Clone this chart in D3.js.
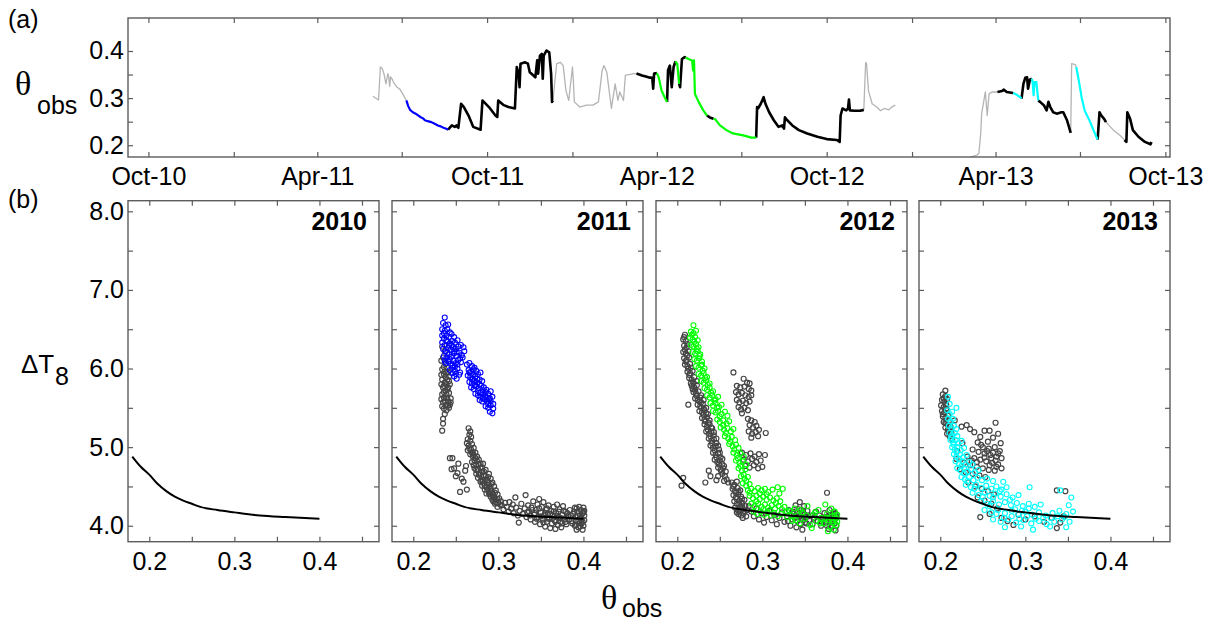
<!DOCTYPE html>
<html>
<head>
<meta charset="utf-8">
<script src="https://cdn.jsdelivr.net/npm/d3@7"></script>
<style>
  html, body { margin: 0; padding: 0; background: #fff; }
  svg { display: block; font-family: "Liberation Sans", Arial, sans-serif; }
</style>
</head>
<body>
<svg id="fig" width="1205" height="621"></svg>
<script>
// ---------------- data: panel (a), θobs record ----------------
const timeTickDates  = ["2010-10-01","2011-01-01","2011-04-01","2011-07-01","2011-10-01","2012-01-01","2012-04-01",
                        "2012-07-01","2012-10-01","2013-01-01","2013-04-01","2013-07-01","2013-10-01"];
const timeTickLabels = ["Oct-10","","Apr-11","","Oct-11","","Apr-12","","Oct-12","","Apr-13","","Oct-13"];
const thetaTicks      = [0.2, 0.25, 0.3, 0.35, 0.4];
const thetaTickLabels = ["0.2", "", "0.3", "", "0.4"];

// runs of the record: "excluded" (not used), "used", "drydown" (selected dry-down period)
const season2011 = [
  ["excluded", [["2011-05-31",0.304],["2011-06-06",0.296],["2011-06-08",0.366],["2011-06-10",0.363],["2011-06-12",0.350],
                ["2011-06-14",0.330],["2011-06-16",0.352],["2011-06-17",0.345],["2011-06-18",0.325],["2011-06-19",0.345],
                ["2011-06-21",0.339],["2011-06-22",0.334],["2011-06-26",0.323],["2011-06-29",0.319],["2011-07-02",0.309],
                ["2011-07-06",0.295]]],
  ["drydown",  [["2011-07-06",0.295],["2011-07-08",0.283],["2011-07-10",0.275],["2011-07-13",0.270],["2011-07-16",0.267],
                ["2011-07-19",0.263],["2011-07-21",0.260],["2011-07-24",0.257],["2011-07-26",0.253],["2011-07-29",0.251],
                ["2011-08-02",0.249],["2011-08-05",0.246],["2011-08-09",0.242],["2011-08-12",0.240],["2011-08-15",0.237],
                ["2011-08-18",0.235],["2011-08-20",0.233]]],
  ["used",     [["2011-08-20",0.233],["2011-08-24",0.242],["2011-08-27",0.239],["2011-08-29",0.242],["2011-08-31",0.237],
                ["2011-09-03",0.288],["2011-09-06",0.281],["2011-09-11",0.263],["2011-09-16",0.239],["2011-09-24",0.233],
                ["2011-09-26",0.295],["2011-10-03",0.281],["2011-10-10",0.263],["2011-10-12",0.260],["2011-10-13",0.295],
                ["2011-10-19",0.285],["2011-10-24",0.281],["2011-10-31",0.278],["2011-11-02",0.366],["2011-11-04",0.352],
                ["2011-11-05",0.323],["2011-11-06",0.373],["2011-11-11",0.376],["2011-11-14",0.373],["2011-11-16",0.355],
                ["2011-11-20",0.348],["2011-11-22",0.344],["2011-11-24",0.380],["2011-11-25",0.352],["2011-11-27",0.390],
                ["2011-11-29",0.394],["2011-11-30",0.341],["2011-12-01",0.390],["2011-12-04",0.401],["2011-12-07",0.397],
                ["2011-12-09",0.352],["2011-12-10",0.292],["2011-12-11",0.295]]],
  ["excluded", [["2011-12-11",0.295],["2011-12-15",0.373],["2011-12-19",0.376],["2011-12-22",0.369],["2011-12-25",0.316],
                ["2011-12-28",0.295],["2012-01-01",0.366],["2012-01-02",0.337],["2012-01-03",0.292],["2012-01-09",0.281],
                ["2012-01-16",0.285],["2012-01-23",0.285],["2012-01-29",0.292],["2012-02-02",0.359],["2012-02-04",0.369],
                ["2012-02-07",0.355],["2012-02-12",0.278],["2012-02-16",0.330],["2012-02-19",0.295],["2012-02-21",0.313],
                ["2012-02-25",0.295],["2012-02-27",0.348],["2012-03-07",0.352],["2012-03-10",0.352]]]
];

const season2012 = [
  ["used",     [["2012-03-10",0.352],["2012-03-16",0.348],["2012-03-23",0.344],["2012-03-27",0.343],["2012-03-28",0.320],
                ["2012-03-29",0.352],["2012-04-01",0.353]]],
  ["drydown",  [["2012-04-01",0.353],["2012-04-03",0.344],["2012-04-06",0.316],["2012-04-10",0.299],["2012-04-12",0.292]]],
  ["used",     [["2012-04-12",0.292],["2012-04-13",0.359],["2012-04-15",0.369],["2012-04-17",0.323],["2012-04-19",0.366],
                ["2012-04-21",0.378]]],
  ["drydown",  [["2012-04-21",0.378],["2012-04-23",0.372],["2012-04-25",0.330]]],
  ["used",     [["2012-04-25",0.330],["2012-04-26",0.323],["2012-04-28",0.383],["2012-05-01",0.387],["2012-05-02",0.386]]],
  ["drydown",  [["2012-05-02",0.386],["2012-05-05",0.383],["2012-05-09",0.380],["2012-05-10",0.359],["2012-05-11",0.380],
                ["2012-05-12",0.309],["2012-05-16",0.292],["2012-05-21",0.274],["2012-05-25",0.263]]],
  ["used",     [["2012-05-25",0.263],["2012-05-28",0.259],["2012-06-01",0.256]]],
  ["drydown",  [["2012-06-01",0.256],["2012-06-03",0.255],["2012-06-08",0.242],["2012-06-15",0.232],["2012-06-22",0.225],
                ["2012-07-03",0.221],["2012-07-12",0.216],["2012-07-17",0.216]]],
  ["used",     [["2012-07-17",0.216],["2012-07-18",0.281],["2012-07-19",0.278],["2012-07-22",0.288],["2012-07-25",0.302],
                ["2012-07-27",0.288],["2012-07-31",0.270],["2012-08-05",0.253],["2012-08-10",0.239],["2012-08-14",0.242],
                ["2012-08-16",0.235],["2012-08-17",0.259],["2012-08-19",0.254],["2012-08-25",0.242],["2012-09-01",0.232],
                ["2012-09-10",0.225],["2012-09-21",0.218],["2012-10-01",0.213],["2012-10-12",0.211],["2012-10-15",0.207],
                ["2012-10-16",0.263],["2012-10-18",0.278],["2012-10-22",0.274],["2012-10-24",0.278],["2012-10-25",0.297],
                ["2012-10-26",0.274],["2012-10-31",0.273],["2012-11-06",0.273],["2012-11-10",0.275]]],
  ["excluded", [["2012-11-10",0.275],["2012-11-12",0.376],["2012-11-13",0.373],["2012-11-15",0.316],["2012-11-19",0.288],
                ["2012-11-24",0.281],["2012-11-28",0.273],["2012-12-02",0.278],["2012-12-07",0.275],["2012-12-10",0.281],
                ["2012-12-14",0.285]]]
];

const season2013 = [
  ["excluded", [["2013-03-05",0.175],["2013-03-12",0.179],["2013-03-14",0.183],["2013-03-16",0.225],["2013-03-17",0.267],
                ["2013-03-21",0.313],["2013-03-23",0.263],["2013-03-25",0.309],["2013-03-28",0.313],["2013-04-03",0.313]]],
  ["used",     [["2013-04-03",0.313],["2013-04-08",0.315],["2013-04-10",0.318],["2013-04-13",0.313],["2013-04-20",0.311]]],
  ["drydown",  [["2013-04-20",0.311],["2013-04-24",0.307],["2013-04-28",0.301],["2013-04-29",0.299]]],
  ["used",     [["2013-04-29",0.299],["2013-05-01",0.330],["2013-05-03",0.343],["2013-05-05",0.344],["2013-05-06",0.320],
                ["2013-05-08",0.339],["2013-05-10",0.341]]],
  ["drydown",  [["2013-05-10",0.341],["2013-05-11",0.334],["2013-05-12",0.306],["2013-05-13",0.334],["2013-05-15",0.334],
                ["2013-05-17",0.295]]],
  ["used",     [["2013-05-17",0.295],["2013-05-19",0.292],["2013-05-23",0.285],["2013-05-26",0.274],["2013-05-28",0.292],
                ["2013-05-30",0.281],["2013-06-02",0.270],["2013-06-06",0.267],["2013-06-11",0.270],["2013-06-13",0.270],
                ["2013-06-17",0.253],["2013-06-21",0.226]]],
  ["excluded", [["2013-06-21",0.226],["2013-06-22",0.373],["2013-06-26",0.371],["2013-06-27",0.366]]],
  ["drydown",  [["2013-06-27",0.366],["2013-06-28",0.355],["2013-06-30",0.334],["2013-07-03",0.299],["2013-07-06",0.274],
                ["2013-07-12",0.249],["2013-07-17",0.225],["2013-07-20",0.212]]],
  ["used",     [["2013-07-20",0.212],["2013-07-22",0.270],["2013-07-24",0.263],["2013-07-27",0.256],["2013-07-29",0.249]]],
  ["excluded", [["2013-07-29",0.249],["2013-08-06",0.232],["2013-08-13",0.221],["2013-08-18",0.211]]],
  ["used",     [["2013-08-18",0.211],["2013-08-20",0.207],["2013-08-21",0.270],["2013-08-24",0.256],["2013-08-27",0.232],
                ["2013-09-02",0.218],["2013-09-09",0.207],["2013-09-15",0.202],["2013-09-16",0.207]]]
];

// ---------------- data: panel (b), ΔT8 vs θobs ----------------
const years        = ["2010", "2011", "2012", "2013"];
const dtTicks      = [4.0, 4.5, 5.0, 5.5, 6.0, 6.5, 7.0, 7.5, 8.0];
const dtTickLabels = ["4.0", "", "5.0", "", "6.0", "", "7.0", "", "8.0"];
const xThetaTicks      = [0.2, 0.25, 0.3, 0.35, 0.4, 0.45];
const xThetaTickLabels = ["0.2", "", "0.3", "", "0.4", ""];

// reference relation ΔT8(θ)
const curveTheta = [0.18, 0.19, 0.20, 0.21, 0.22, 0.23, 0.24, 0.25, 0.26, 0.28, 0.30, 0.33, 0.36, 0.40];
const curveDT    = [4.88, 4.75, 4.65, 4.53, 4.44, 4.37, 4.32, 4.28, 4.24, 4.20, 4.17, 4.13, 4.11, 4.09];

// all observations of the year [θ, ΔT8]
const allPts2011 = [
  [0.234,6.28],[0.237,6.22],[0.235,6.14],[0.238,6.06],[0.240,6.01],[0.234,5.99],[0.236,5.93],[0.239,5.95],[0.242,5.90],
  [0.234,5.86],[0.237,5.82],[0.240,5.86],[0.243,5.80],[0.235,5.76],[0.238,5.72],[0.241,5.76],[0.234,5.67],[0.236,5.63],
  [0.239,5.67],[0.242,5.69],[0.244,5.62],[0.235,5.57],[0.238,5.53],[0.241,5.58],[0.243,5.54],[0.236,5.49],[0.239,5.47],
  [0.242,5.50],[0.237,5.42],[0.235,5.36],[0.235,5.30],[0.234,5.21],
  [0.233,6.10],[0.236,6.02],[0.233,5.92],[0.238,5.89],[0.233,5.80],[0.236,5.70],[0.240,5.73],[0.233,5.61],[0.237,5.59],
  [0.240,5.62],[0.234,5.52],[0.244,5.57],[0.241,5.53],[0.237,5.96],[0.241,5.95],[0.239,5.80],[0.242,5.84],[0.236,5.78],
  [0.243,4.86],[0.246,4.86],[0.245,4.72],[0.248,4.73],[0.250,4.63],[0.253,4.79],[0.255,4.43],[0.257,4.60],[0.259,4.56],
  [0.261,4.70],[0.262,4.76],[0.263,4.46],[0.252,4.67],
  [0.265,5.24],[0.266,5.16],[0.264,5.10],[0.267,5.08],[0.265,5.02],[0.269,5.04],[0.268,4.97],[0.271,4.99],[0.264,4.96],
  [0.273,4.93],[0.267,4.91],[0.270,4.88],[0.275,4.88],[0.272,4.83],[0.277,4.84],[0.269,4.81],[0.274,4.78],[0.279,4.79],
  [0.272,4.73],[0.276,4.72],[0.281,4.74],[0.274,4.66],[0.278,4.67],[0.283,4.69],[0.276,4.61],[0.280,4.62],[0.285,4.63],
  [0.289,4.66],[0.279,4.56],[0.282,4.57],[0.287,4.58],[0.291,4.60],[0.281,4.51],[0.284,4.51],[0.289,4.52],[0.293,4.55],
  [0.284,4.46],[0.287,4.46],[0.291,4.47],[0.295,4.50],[0.286,4.41],[0.289,4.41],[0.293,4.42],[0.297,4.45],[0.291,4.37],
  [0.295,4.37],[0.299,4.40],[0.293,4.33],[0.297,4.33],[0.301,4.35],[0.296,4.28],[0.300,4.29],[0.303,4.31],[0.299,4.24],
  [0.270,4.93],[0.268,5.13],
  [0.267,5.20],[0.263,5.05],[0.266,4.98],[0.269,4.93],[0.271,4.90],[0.273,4.86],[0.275,4.82],[0.277,4.78],[0.279,4.74],
  [0.281,4.69],[0.283,4.64],[0.285,4.59],[0.287,4.55],[0.289,4.49],[0.291,4.44],[0.293,4.39],[0.295,4.34],[0.297,4.30],
  [0.271,4.77],[0.274,4.71],[0.277,4.65],[0.280,4.58],[0.283,4.54],[0.286,4.49],[0.290,4.40],[0.294,4.31],[0.282,4.79],
  [0.285,4.71],[0.288,4.62],[0.292,4.53],[0.296,4.42],[0.299,4.34],[0.302,4.27],
  [0.304,4.26],[0.306,4.21],[0.308,4.29],[0.310,4.24],[0.312,4.18],[0.313,4.30],[0.315,4.22],[0.317,4.27],[0.318,4.16],
  [0.320,4.36],[0.321,4.23],[0.323,4.13],[0.324,4.04],[0.325,4.19],[0.327,4.28],[0.329,4.15],[0.331,4.22],[0.332,4.39],
  [0.333,4.11],[0.335,4.26],[0.336,4.18],[0.338,4.08],[0.339,4.23],[0.341,4.31],[0.342,4.14],[0.343,4.05],[0.344,4.20],
  [0.346,4.27],[0.347,4.11],[0.348,4.34],[0.349,4.02],[0.350,4.17],[0.351,4.24],[0.352,4.08],[0.353,4.30],[0.354,4.13],
  [0.355,3.99],[0.356,4.20],[0.357,4.05],[0.358,4.15],[0.359,4.26],[0.360,4.10],[0.361,3.97],[0.362,4.19],[0.363,4.03],
  [0.364,4.13],[0.365,4.24],[0.366,4.07],[0.367,3.96],[0.368,4.16],[0.369,4.27],[0.370,4.01],[0.371,4.11],[0.372,4.21],
  [0.373,4.05],[0.374,3.98],[0.375,4.14],[0.376,4.25],[0.378,4.09],[0.379,4.18],[0.380,4.02],[0.382,4.12],[0.384,4.20],
  [0.386,4.06],[0.388,4.15],[0.390,4.23],[0.390,4.00],[0.391,4.11],[0.392,3.95],[0.393,4.18],[0.394,4.06],[0.395,4.24],
  [0.396,3.99],[0.396,4.13],[0.397,4.20],[0.398,4.03],[0.398,4.09],[0.399,3.95],[0.399,4.16],[0.400,4.23],[0.400,4.00],
  [0.401,4.07],[0.401,4.13],[0.401,4.19],
  [0.334,4.17],[0.337,4.13],[0.340,4.20],[0.343,4.16],[0.345,4.09],[0.348,4.22],[0.350,4.12],[0.353,4.04],[0.355,4.16],
  [0.357,4.22],[0.359,4.09],[0.361,4.15],[0.363,4.09],[0.365,4.18],[0.367,4.05],[0.369,4.12],[0.371,4.18],[0.373,4.10],
  [0.375,4.03],[0.377,4.19],[0.379,4.05],[0.381,4.16],[0.383,4.08],[0.385,4.13],[0.387,4.03],[0.389,4.18],[0.391,4.06],
  [0.393,4.13],[0.395,4.03],[0.397,4.10],[0.399,4.05],[0.400,4.17],[0.392,4.22],[0.394,3.98],[0.391,4.01]
];

// observations inside the selected dry-down [θ, ΔT8]
const dryPts2011 = [
  [0.237,6.65],[0.235,6.58],[0.238,6.55],[0.241,6.56],[0.234,6.50],[0.237,6.48],[0.240,6.50],[0.243,6.46],[0.234,6.42],
  [0.236,6.38],[0.239,6.42],[0.242,6.40],[0.245,6.44],[0.248,6.40],[0.234,6.33],[0.237,6.30],[0.240,6.34],[0.243,6.32],
  [0.246,6.35],[0.249,6.33],[0.252,6.36],[0.235,6.25],[0.238,6.22],[0.241,6.26],[0.244,6.24],[0.247,6.27],[0.250,6.25],
  [0.253,6.28],[0.256,6.30],[0.259,6.27],[0.236,6.16],[0.239,6.14],[0.242,6.18],[0.245,6.15],[0.248,6.19],[0.251,6.16],
  [0.254,6.20],[0.257,6.17],[0.260,6.22],[0.238,6.07],[0.241,6.09],[0.244,6.06],[0.247,6.10],[0.250,6.07],[0.253,6.11],
  [0.256,6.08],[0.243,5.98],[0.246,6.01],[0.249,5.97],[0.252,6.00],[0.255,5.95],[0.248,5.90],[0.251,5.87],[0.254,5.92],
  [0.236,6.45],[0.239,6.36],[0.242,6.29],[0.245,6.30],[0.248,6.22],[0.251,6.21],[0.240,6.20],[0.243,6.12],[0.246,6.04],
  [0.249,6.03],[0.252,6.05],[0.255,6.13],[0.258,6.14],[0.237,6.10],[0.246,5.94],[0.250,5.93],
  [0.263,6.05],[0.266,6.07],[0.269,6.03],[0.265,5.98],[0.268,5.96],[0.271,5.99],[0.274,5.97],[0.264,5.91],[0.267,5.89],
  [0.270,5.92],[0.273,5.90],[0.276,5.93],[0.279,5.95],[0.266,5.83],[0.269,5.81],[0.272,5.84],[0.275,5.82],[0.278,5.86],
  [0.281,5.84],[0.268,5.76],[0.271,5.74],[0.274,5.77],[0.277,5.75],[0.280,5.78],[0.283,5.76],[0.286,5.73],[0.273,5.68],
  [0.276,5.66],[0.279,5.69],[0.282,5.67],[0.285,5.70],[0.288,5.68],[0.291,5.71],[0.278,5.60],[0.281,5.58],[0.284,5.61],
  [0.287,5.59],[0.290,5.62],[0.293,5.64],[0.285,5.52],[0.288,5.50],[0.291,5.53],[0.294,5.49],[0.293,5.43],[0.290,5.45],
  [0.272,6.01],[0.270,5.87],[0.273,5.79],[0.276,5.71],[0.279,5.64],[0.282,5.62],[0.285,5.65],[0.288,5.55],[0.291,5.58],
  [0.294,5.55],[0.278,5.80],[0.282,5.72],[0.286,5.63],[0.289,5.61],[0.266,5.95],[0.269,5.86],[0.272,5.78],[0.275,5.87]
];

const allPts2012 = [
  [0.209,6.43],[0.207,6.37],[0.210,6.35],[0.208,6.29],[0.211,6.27],[0.207,6.21],[0.210,6.19],[0.213,6.22],[0.208,6.13],
  [0.211,6.11],[0.214,6.14],[0.209,6.05],[0.212,6.03],[0.215,6.06],
  [0.212,5.96],[0.215,5.94],[0.218,5.97],[0.214,5.88],[0.217,5.86],[0.220,5.89],[0.223,5.84],
  [0.217,5.78],[0.220,5.76],[0.223,5.79],[0.219,5.70],[0.222,5.68],[0.225,5.71],[0.228,5.66],[0.221,5.62],[0.224,5.60],
  [0.227,5.63],[0.231,5.60],
  [0.224,5.54],[0.227,5.52],[0.230,5.55],[0.234,5.50],[0.226,5.46],[0.229,5.44],[0.232,5.47],[0.236,5.42],[0.229,5.37],
  [0.232,5.35],[0.235,5.38],[0.238,5.34],
  [0.232,5.29],[0.235,5.26],[0.238,5.29],[0.241,5.24],[0.234,5.20],[0.237,5.17],[0.240,5.20],[0.243,5.15],
  [0.237,5.11],[0.240,5.08],[0.243,5.10],[0.246,5.05],[0.239,5.02],[0.242,4.99],[0.245,5.01],[0.249,4.97],
  [0.242,4.93],[0.245,4.90],[0.248,4.92],[0.251,4.87],[0.244,4.84],[0.247,4.81],[0.250,4.83],[0.253,4.78],[0.248,4.74],
  [0.251,4.71],[0.254,4.73],
  [0.253,4.66],[0.256,4.63],[0.255,4.57],[0.258,4.59],[0.260,4.55],
  [0.208,6.40],[0.212,6.31],[0.209,6.24],[0.212,6.17],[0.210,6.09],[0.213,6.00],[0.216,6.01],[0.214,5.92],[0.219,5.82],
  [0.216,5.81],[0.218,5.74],[0.221,5.72],[0.223,5.65],[0.226,5.58],[0.228,5.50],[0.231,5.41],[0.233,5.33],[0.236,5.22],
  [0.239,5.14],[0.241,5.05],[0.244,4.96],[0.246,4.87],[0.249,4.78],[0.252,4.69],[0.228,5.57],[0.231,5.49],[0.234,5.43],
  [0.237,5.31],[0.240,5.25],[0.243,5.19],[0.246,5.11],[0.248,5.02],[0.250,4.93],[0.253,4.85],[0.255,4.76],[0.257,4.69],
  [0.264,4.55],[0.267,4.52],[0.270,4.56],[0.265,4.47],[0.268,4.44],[0.271,4.48],[0.274,4.45],[0.266,4.39],[0.269,4.36],
  [0.272,4.40],[0.275,4.37],[0.267,4.31],[0.270,4.28],[0.273,4.32],[0.276,4.29],[0.279,4.33],[0.268,4.23],[0.271,4.20],
  [0.274,4.24],[0.277,4.21],[0.280,4.25],[0.272,4.15],[0.275,4.13],[0.278,4.16],[0.281,4.12],
  [0.266,4.50],[0.269,4.42],[0.272,4.43],[0.270,4.34],[0.273,4.27],[0.276,4.34],[0.270,4.17],[0.273,4.18],[0.276,4.25],
  [0.279,4.19],[0.282,4.20],[0.277,4.10],
  [0.213,5.54],[0.207,4.61],[0.205,4.51],[0.233,4.55],[0.237,4.70],[0.239,4.63],[0.248,4.63],[0.246,4.58],[0.376,4.42],
  [0.266,5.95],[0.278,5.87],[0.282,5.82],[0.285,5.81],[0.270,5.78],[0.274,5.76],[0.279,5.77],[0.284,5.74],[0.287,5.72],
  [0.269,5.70],[0.272,5.67],[0.276,5.69],[0.280,5.66],[0.284,5.64],[0.287,5.66],[0.270,5.60],[0.273,5.57],[0.277,5.59],
  [0.281,5.56],[0.285,5.58],[0.272,5.51],[0.275,5.48],[0.279,5.50],[0.283,5.47],[0.276,5.43],
  [0.283,5.36],[0.287,5.34],[0.291,5.32],[0.285,5.28],[0.289,5.25],[0.293,5.27],[0.296,5.22],[0.284,5.20],[0.288,5.17],
  [0.292,5.19],[0.295,5.14],[0.287,5.12],[0.304,5.18],
  [0.276,4.93],[0.281,4.90],[0.286,4.92],[0.291,4.88],[0.296,4.91],[0.303,4.90],[0.278,4.84],[0.283,4.82],[0.288,4.85],
  [0.293,4.81],[0.298,4.83],[0.280,4.76],[0.285,4.74],[0.290,4.77],[0.295,4.73],[0.300,4.75],
  [0.284,4.25],[0.287,4.18],[0.290,4.12],[0.293,4.22],[0.296,4.08],[0.299,4.16],[0.302,4.04],[0.305,4.11],[0.308,4.19],
  [0.311,4.07],[0.314,4.14],[0.317,4.02],[0.320,4.10],[0.323,4.17],[0.326,4.05],[0.329,4.12],[0.331,4.20],[0.333,4.00],
  [0.335,4.08],[0.337,4.15],[0.339,4.26],[0.340,3.98],[0.341,4.06],[0.342,4.13],[0.343,4.21],[0.344,4.30],[0.345,4.02],
  [0.346,4.09],[0.347,3.95],[0.348,4.17],[0.349,4.25],[0.350,4.04],[0.351,4.11],[0.353,4.19],[0.355,4.07],[0.357,4.13],
  [0.359,4.02],[0.361,4.10],[0.363,4.18],[0.365,4.06],[0.367,4.13],[0.369,4.00],[0.371,4.09],[0.373,4.16],[0.375,4.04],
  [0.377,4.11],[0.378,3.96],[0.379,4.20],[0.380,4.07],[0.381,4.14],[0.382,3.99],[0.383,4.10],[0.384,4.17],[0.385,4.03],
  [0.386,3.94],[0.387,4.12],
  [0.330,4.06],[0.336,4.18],[0.338,4.10],[0.341,4.17],[0.344,4.12],[0.346,4.20],[0.348,4.07],[0.350,4.14],[0.352,4.03],
  [0.354,4.12],[0.370,4.05],[0.374,4.11],[0.376,4.00],[0.379,4.13],[0.381,4.04],[0.383,4.15],[0.385,4.08],[0.386,4.15],
  [0.387,4.00]
];

const dryPts2012 = [
  [0.219,6.55],[0.216,6.47],[0.219,6.45],[0.222,6.48],[0.215,6.39],[0.218,6.37],[0.221,6.40],[0.224,6.36],[0.216,6.30],
  [0.219,6.28],[0.222,6.31],[0.225,6.27],[0.218,6.21],[0.221,6.19],[0.224,6.22],[0.227,6.18],[0.220,6.12],[0.223,6.10],
  [0.226,6.13],[0.229,6.09],[0.222,6.03],[0.225,6.01],[0.228,6.04],[0.232,6.00],
  [0.225,5.93],[0.228,5.91],[0.231,5.94],[0.235,5.89],[0.228,5.84],[0.231,5.82],[0.234,5.85],[0.238,5.81],
  [0.232,5.75],[0.235,5.73],[0.238,5.76],[0.242,5.71],[0.235,5.66],[0.238,5.63],[0.241,5.66],[0.245,5.61],[0.248,5.64],
  [0.239,5.56],[0.242,5.53],[0.245,5.56],[0.249,5.51],[0.252,5.54],[0.242,5.46],[0.245,5.44],[0.248,5.46],[0.252,5.42],
  [0.256,5.45],[0.259,5.40],
  [0.247,5.35],[0.250,5.32],[0.254,5.34],[0.258,5.30],[0.261,5.33],[0.251,5.25],[0.255,5.22],[0.259,5.24],[0.263,5.20],
  [0.266,5.23],
  [0.256,5.14],[0.260,5.11],[0.264,5.13],[0.268,5.09],[0.261,5.04],[0.265,5.01],[0.269,5.03],[0.272,4.99],
  [0.266,4.93],[0.270,4.90],[0.274,4.92],[0.278,4.88],[0.269,4.83],[0.273,4.80],[0.277,4.82],[0.281,4.78],[0.272,4.73],
  [0.276,4.70],[0.280,4.72],
  [0.275,4.63],[0.279,4.60],[0.283,4.62],[0.277,4.54],[0.281,4.51],[0.285,4.53],
  [0.217,6.43],[0.220,6.34],[0.223,6.25],[0.226,6.16],[0.229,6.05],[0.230,5.97],[0.233,5.88],[0.236,5.79],[0.240,5.69],
  [0.244,5.59],[0.247,5.50],[0.250,5.39],[0.254,5.28],[0.257,5.18],[0.262,5.07],[0.267,4.97],[0.271,4.86],[0.274,4.76],
  [0.278,4.65],[0.281,4.57],
  [0.283,4.45],[0.287,4.47],[0.291,4.44],[0.295,4.48],[0.299,4.45],[0.303,4.47],[0.307,4.43],[0.312,4.46],[0.318,4.49],
  [0.324,4.47],[0.285,4.38],[0.289,4.35],[0.293,4.38],[0.297,4.34],[0.301,4.37],[0.305,4.33],[0.309,4.36],[0.313,4.32],
  [0.317,4.35],[0.321,4.31],[0.287,4.28],[0.291,4.25],[0.295,4.28],[0.299,4.24],[0.303,4.27],[0.307,4.23],[0.311,4.26],
  [0.315,4.22],[0.319,4.25],[0.323,4.21],[0.290,4.18],[0.294,4.15],[0.298,4.18],[0.302,4.14],[0.306,4.17],[0.310,4.13],
  [0.314,4.16],[0.318,4.12],[0.322,4.15],
  [0.285,4.42],[0.293,4.31],[0.301,4.21],[0.309,4.20],[0.316,4.29],[0.320,4.41],[0.297,4.41],[0.305,4.40],
  [0.326,4.24],[0.329,4.11],[0.332,4.19],[0.335,4.06],[0.338,4.22],[0.341,4.13],[0.344,4.03],[0.347,4.17],[0.350,4.09],
  [0.353,4.25],[0.356,4.01],[0.358,3.97],[0.360,4.14],[0.363,4.06],[0.366,4.20],[0.369,4.10],[0.372,4.03],[0.374,4.27],
  [0.376,4.15],[0.378,4.07],[0.380,3.99],[0.381,4.22],[0.382,4.12],[0.383,4.04],[0.384,3.95],[0.385,4.18],[0.386,4.09],
  [0.387,4.01],[0.388,4.14],[0.377,3.93],
  [0.329,4.18],[0.334,4.13],[0.339,4.07],[0.345,4.20],[0.352,4.13],[0.362,4.17],[0.368,4.03],[0.375,4.10],[0.382,4.07],
  [0.385,4.13],[0.388,4.05]
];

const allPts2013 = [
  [0.206,5.72],[0.203,5.67],[0.206,5.65],[0.202,5.60],[0.205,5.58],[0.208,5.61],[0.201,5.53],[0.204,5.51],[0.207,5.54],
  [0.202,5.46],[0.205,5.44],[0.208,5.47],[0.203,5.39],[0.206,5.37],[0.209,5.40],[0.204,5.32],[0.207,5.30],[0.210,5.33],
  [0.206,5.25],[0.209,5.22],[0.212,5.26],[0.208,5.17],[0.211,5.14],
  [0.204,5.62],[0.207,5.49],[0.203,5.42],[0.206,5.31],[0.209,5.28],[0.210,5.19],[0.213,5.19],
  [0.217,5.34],[0.225,5.26],[0.231,5.28],[0.235,5.23],[0.240,5.19],[0.247,5.13],[0.252,5.21],[0.258,5.21],[0.265,5.31],
  [0.268,5.17],[0.262,5.12],[0.271,5.05],[0.256,5.07],[0.244,5.06],[0.250,5.00],[0.257,4.98],[0.264,5.00],[0.270,4.95],
  [0.238,4.97],[0.245,4.94],[0.252,4.92],[0.259,4.90],[0.266,4.88],[0.272,4.86],[0.232,4.88],[0.240,4.86],[0.247,4.84],
  [0.254,4.82],[0.261,4.80],[0.268,4.78],[0.272,4.73],[0.228,4.80],[0.235,4.77],[0.243,4.75],[0.250,4.73],[0.257,4.71],
  [0.264,4.70],[0.223,4.72],[0.230,4.68],[0.238,4.66],[0.246,4.64],[0.253,4.62],[0.220,4.95],[0.226,5.05],[0.214,5.10],
  [0.219,4.85],
  [0.248,5.03],[0.255,4.95],[0.262,4.93],[0.268,4.92],[0.260,4.86],[0.265,4.83],[0.252,4.87],[0.258,4.77],[0.266,4.75],
  [0.243,4.81],[0.237,4.83],
  [0.233,4.55],[0.241,4.50],[0.249,4.47],[0.256,4.44],[0.263,4.40],[0.244,4.36],[0.252,4.32],[0.260,4.28],[0.267,4.22],
  [0.247,4.11],[0.258,4.15],[0.272,4.10],[0.279,4.06],[0.286,4.01],[0.292,4.14],[0.300,4.08],[0.311,4.12],[0.322,4.05],
  [0.331,4.10],[0.337,3.97],[0.341,4.04],[0.337,4.45],[0.347,4.44],[0.345,4.12]
];

const dryPts2013 = [
  [0.209,5.64],[0.219,5.50],[0.211,5.55],[0.208,5.47],[0.211,5.42],[0.214,5.45],[0.209,5.36],[0.212,5.33],[0.215,5.36],
  [0.210,5.27],[0.213,5.24],[0.216,5.27],[0.219,5.23],[0.211,5.18],[0.214,5.15],[0.217,5.18],[0.220,5.14],[0.212,5.09],
  [0.215,5.06],[0.218,5.09],[0.221,5.05],[0.225,5.08],[0.214,5.00],[0.217,4.97],[0.220,5.00],[0.224,4.96],[0.228,4.99],
  [0.216,4.91],[0.219,4.88],[0.223,4.91],[0.227,4.87],[0.231,4.90],[0.218,4.82],[0.222,4.79],[0.226,4.82],[0.230,4.78],
  [0.234,4.81],[0.238,4.78],[0.220,4.73],[0.224,4.70],[0.228,4.73],[0.232,4.69],[0.236,4.72],[0.241,4.68],[0.245,4.71],
  [0.225,4.62],[0.229,4.59],[0.234,4.62],[0.239,4.58],[0.244,4.61],[0.249,4.58],[0.255,4.60],[0.262,4.57],[0.274,4.56],
  [0.230,4.52],[0.236,4.49],[0.242,4.52],[0.248,4.48],[0.254,4.51],[0.260,4.47],[0.266,4.50],[0.272,4.46],[0.278,4.49],
  [0.238,4.42],[0.245,4.39],[0.252,4.42],[0.258,4.38],[0.265,4.41],[0.271,4.37],[0.278,4.40],[0.285,4.36],[0.292,4.39],
  [0.305,4.49],[0.248,4.31],[0.255,4.28],[0.262,4.31],[0.269,4.27],[0.276,4.30],[0.283,4.26],[0.290,4.29],[0.297,4.25],
  [0.304,4.28],[0.311,4.24],[0.318,4.27],[0.252,4.20],[0.260,4.17],[0.268,4.20],[0.276,4.16],[0.284,4.19],[0.292,4.15],
  [0.300,4.18],[0.308,4.14],[0.316,4.17],[0.324,4.13],[0.332,4.16],[0.340,4.19],[0.348,4.15],[0.262,4.08],[0.271,4.05],
  [0.280,4.08],[0.289,4.04],[0.298,4.07],[0.307,4.03],[0.316,4.06],[0.325,4.02],[0.334,4.05],[0.343,4.08],[0.352,4.05],
  [0.276,3.98],[0.295,3.99],[0.309,3.95],[0.329,3.99],[0.348,3.98],[0.341,4.45],[0.354,4.36],[0.356,4.18],[0.351,4.26],
  [0.213,5.12],[0.216,5.03],[0.219,4.94],[0.222,4.85],[0.225,4.76],[0.228,4.66],[0.232,4.57],[0.240,4.47],[0.250,4.37],
  [0.258,4.25],[0.266,4.15],[0.275,4.10],[0.284,4.12],[0.293,4.09],[0.302,4.12],[0.312,4.09],[0.321,4.10],[0.330,4.10],
  [0.338,4.12],[0.346,4.11],[0.282,4.33],[0.270,4.44],[0.288,4.21],[0.296,4.19],[0.304,4.22],[0.262,4.36]
];

// ---------------- drawing ----------------
const svg = d3.select("#fig");
const FONT = "'Liberation Sans', Arial, sans-serif";
const SERIF = "'Liberation Serif', 'Times New Roman', serif";
const frameColor = "#5c5c5c";
const tickLen = 5;
const fontSize = 25;
const dryColor = { "2011": "#0000ff", "2012": "#00ff00", "2013": "#00ffff" };
const parseDay = d3.utcParse("%Y-%m-%d");

function styleAxis(g) {
  g.select(".domain").remove();
  g.attr("font-size", fontSize).attr("font-family", FONT);
  g.selectAll(".tick line").attr("stroke", frameColor).attr("stroke-width", 1.2);
  g.selectAll(".tick text").attr("fill", "#000");
}

function drawFrame(x0, y0, x1, y1) {
  svg.append("rect")
    .attr("x", x0).attr("y", y0).attr("width", x1 - x0).attr("height", y1 - y0)
    .attr("fill", "none").attr("stroke", frameColor).attr("stroke-width", 1.4);
}

// ----- panel (a) -----
const A = { x0: 128, x1: 1170, y0: 18, y1: 157 };
const xTime = d3.scaleUtc().domain([parseDay("2010-09-09"), parseDay("2013-10-06")]).range([A.x0, A.x1]);
const yTheta = d3.scaleLinear().domain([0.175, 0.47]).range([A.y1, A.y0]);
const tDates = timeTickDates.map(parseDay);

svg.append("defs").append("clipPath").attr("id", "clipA")
  .append("rect").attr("x", A.x0).attr("y", A.y0).attr("width", A.x1 - A.x0).attr("height", A.y1 - A.y0);

const recLine = d3.line().x(d => xTime(parseDay(d[0]))).y(d => yTheta(d[1]));
const gRec = svg.append("g").attr("clip-path", "url(#clipA)");
const runStyle = {
  excluded: { color: () => "#b4b4b4", width: 1.3 },
  used:     { color: () => "#000000", width: 2.6 },
  drydown:  { color: yr => dryColor[yr], width: 2.2 }
};
[["2011", season2011], ["2012", season2012], ["2013", season2013]].forEach(([yr, runs]) => {
  ["excluded", "used", "drydown"].forEach(kind => {
    runs.filter(r => r[0] === kind).forEach(r => {
      gRec.append("path").attr("d", recLine(r[1]))
        .attr("fill", "none")
        .attr("stroke", runStyle[kind].color(yr))
        .attr("stroke-width", runStyle[kind].width)
        .attr("stroke-linejoin", "round");
    });
  });
});

svg.append("g").attr("transform", `translate(0,${A.y1})`)
  .call(d3.axisBottom(xTime).tickValues(tDates).tickFormat((d, i) => timeTickLabels[i]).tickSize(-tickLen).tickPadding(10))
  .call(styleAxis);
svg.append("g").attr("transform", `translate(0,${A.y0})`)
  .call(d3.axisTop(xTime).tickValues(tDates).tickFormat("").tickSize(-tickLen))
  .call(styleAxis);
svg.append("g").attr("transform", `translate(${A.x0},0)`)
  .call(d3.axisLeft(yTheta).tickValues(thetaTicks).tickFormat((d, i) => thetaTickLabels[i]).tickSize(-tickLen).tickPadding(4))
  .call(styleAxis);
svg.append("g").attr("transform", `translate(${A.x1},0)`)
  .call(d3.axisRight(yTheta).tickValues(thetaTicks).tickFormat("").tickSize(-tickLen))
  .call(styleAxis);
drawFrame(A.x0, A.y0, A.x1, A.y1);

svg.append("text").attr("x", 8).attr("y", 28).attr("font-family", FONT).attr("font-size", fontSize).text("(a)");
svg.append("text").attr("x", 15).attr("y", 95).attr("font-family", SERIF).attr("font-size", 34).text("θ");
svg.append("text").attr("x", 37).attr("y", 114).attr("font-family", FONT).attr("font-size", fontSize).text("obs");

// ----- panel (b) -----
const B = { y0: 200.7, y1: 541.7, w: 251 };
const panelX = [128, 392, 656, 919];
const yDT = d3.scaleLinear().domain([3.797, 8.135]).range([B.y1, B.y0]);
const ptsByYear = {
  "2010": [[], []],
  "2011": [allPts2011, dryPts2011],
  "2012": [allPts2012, dryPts2012],
  "2013": [allPts2013, dryPts2013]
};
const curvePts = curveTheta.map((t, i) => [t, curveDT[i]]);

years.forEach((yr, k) => {
  const x0 = panelX[k], x1 = x0 + B.w;
  const xT = d3.scaleLinear().domain([0.175, 0.47]).range([x0, x1]);
  const g = svg.append("g");
  const [allPts, dryPts] = ptsByYear[yr];

  g.append("g").selectAll("circle").data(allPts).join("circle")
    .attr("cx", d => xT(d[0])).attr("cy", d => yDT(d[1])).attr("r", 2.5)
    .attr("fill", "none").attr("stroke", "#454545").attr("stroke-width", 1.2);
  g.append("g").selectAll("circle").data(dryPts).join("circle")
    .attr("cx", d => xT(d[0])).attr("cy", d => yDT(d[1])).attr("r", 2.5)
    .attr("fill", "none").attr("stroke", dryColor[yr]).attr("stroke-width", 1.1);

  g.append("path")
    .attr("d", d3.line().curve(d3.curveMonotoneX).x(d => xT(d[0])).y(d => yDT(d[1]))(curvePts))
    .attr("fill", "none").attr("stroke", "#000").attr("stroke-width", 2);

  svg.append("g").attr("transform", `translate(0,${B.y1})`)
    .call(d3.axisBottom(xT).tickValues(xThetaTicks).tickFormat((d, i) => xThetaTickLabels[i]).tickSize(-tickLen).tickPadding(11))
    .call(styleAxis);
  svg.append("g").attr("transform", `translate(0,${B.y0})`)
    .call(d3.axisTop(xT).tickValues(xThetaTicks).tickFormat("").tickSize(-tickLen))
    .call(styleAxis);
  svg.append("g").attr("transform", `translate(${x0},0)`)
    .call(d3.axisLeft(yDT).tickValues(dtTicks).tickFormat((d, i) => k === 0 ? dtTickLabels[i] : "").tickSize(-tickLen).tickPadding(4))
    .call(styleAxis);
  svg.append("g").attr("transform", `translate(${x1},0)`)
    .call(d3.axisRight(yDT).tickValues(dtTicks).tickFormat("").tickSize(-tickLen))
    .call(styleAxis);
  drawFrame(x0, B.y0, x1, B.y1);

  svg.append("text").attr("x", x1 - 12).attr("y", 229.5).attr("text-anchor", "end")
    .attr("font-family", FONT).attr("font-size", 25).attr("font-weight", "bold").text(yr);
});

svg.append("text").attr("x", 8).attr("y", 208).attr("font-family", FONT).attr("font-size", fontSize).text("(b)");
svg.append("text").attr("x", 21).attr("y", 373).attr("font-family", FONT).attr("font-size", 26).text("ΔT");
svg.append("text").attr("x", 55).attr("y", 385).attr("font-family", FONT).attr("font-size", fontSize).text("8");
svg.append("text").attr("x", 601).attr("y", 609).attr("font-family", SERIF).attr("font-size", 34).text("θ");
svg.append("text").attr("x", 622).attr("y", 617).attr("font-family", FONT).attr("font-size", fontSize).text("obs");
</script>
</body>
</html>
